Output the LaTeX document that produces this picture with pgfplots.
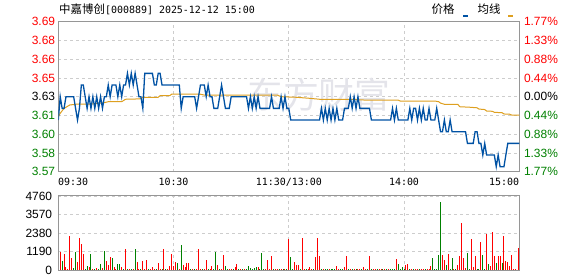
\documentclass[border=0pt]{standalone}
\usepackage{fontspec}
\setmainfont{Liberation Sans}
\newfontfamily\cjk{Noto Sans CJK SC}
\newfontfamily\mono{DejaVu Sans Mono}
\usepackage{pgfplots}
\pgfplotsset{compat=1.18}
\definecolor{pricec}{RGB}{0,82,164}
\definecolor{avgc}{RGB}{222,160,32}
\definecolor{dred}{RGB}{255,0,0}
\definecolor{dgreen}{RGB}{0,128,0}
\definecolor{framec}{RGB}{150,150,150}
\definecolor{gridc}{RGB}{205,205,205}
\definecolor{wmc}{RGB}{228,228,234}
\pgfplotsset{
  panel/.style={scale only axis, width=461bp, xmin=0, xmax=240,
    axis line style={draw=framec, line width=1bp},
    major tick length=0pt, tick style={draw=none},
    xmajorgrids, ymajorgrids,
    major grid style={draw=gridc, line width=0.8bp, dash pattern=on 3bp off 3bp},
    xtick={60,120,180}, xticklabels={},
    clip=true},
}
\begin{document}
\begin{tikzpicture}
\useasboundingbox (0bp,0bp) rectangle (578bp,276bp);
% ---------- price panel ----------
\begin{axis}[panel, at={(58.3bp,104.3bp)}, anchor=south west, height=150bp,
  ymin=3.56574, ymax=3.69426,
  ytick={3.56574,3.58181,3.59787,3.61394,3.63,3.64606,3.66213,3.67819,3.69426},
  yticklabels={\textcolor{dgreen}{3.57},\textcolor{dgreen}{3.58},\textcolor{dgreen}{3.60},\textcolor{dgreen}{3.61},\textcolor{black}{3.63},\textcolor{dred}{3.65},\textcolor{dred}{3.66},\textcolor{dred}{3.68},\textcolor{dred}{3.69}},
  yticklabel style={font=\fontsize{12}{14}\selectfont, inner sep=0pt, xshift=-3bp, anchor=east}]
\node[text=wmc, font=\cjk\fontsize{36}{36}\selectfont] at (axis cs:135.7,3.6315) {东方财富};
\addplot[avgc, line width=1bp, mark=none] coordinates {
(0,3.613)(1,3.6158)(3,3.620)(6,3.6229)(10,3.6237)(17,3.6237)(24,3.6249)(26,3.6257)(33,3.6257)(35,3.6278)(40,3.628)(43,3.6283)(44,3.6295)(52,3.6295)(53,3.6309)(58,3.6309)(59,3.6321)(74,3.6321)(76,3.6314)(114,3.6314)(116,3.6300)(124,3.6295)(131,3.6286)(136,3.6278)(154,3.6278)(156,3.6272)(177,3.6270)(178,3.6263)(196,3.6263)(198,3.6257)(199,3.6245)(201,3.6235)(208,3.6234)(209,3.6214)(214,3.621)(218,3.6205)(219,3.6194)(222,3.619)(223,3.6177)(226,3.6175)(227,3.6166)(231,3.6163)(232,3.6152)(235,3.615)(236,3.6143)(240,3.6143)};
\addplot[pricec, line width=1.3bp, mark=none] coordinates {
(0,3.61)(1,3.63)(2,3.62)(3,3.62)(4,3.63)(8,3.63)(9,3.62)(10,3.61)(11,3.62)(12,3.64)(13,3.64)(14,3.63)(15,3.62)(16,3.63)(17,3.62)(18,3.63)(19,3.62)(20,3.63)(21,3.62)(22,3.63)(23,3.62)(24,3.63)(25,3.63)(26,3.64)(27,3.63)(28,3.64)(30,3.64)(31,3.63)(32,3.64)(33,3.63)(34,3.64)(35,3.64)(36,3.65)(37,3.64)(38,3.65)(39,3.64)(40,3.65)(41,3.64)(42,3.63)(43,3.63)(44,3.62)(45,3.65)(49,3.65)(50,3.64)(51,3.64)(52,3.65)(53,3.65)(54,3.64)(63,3.64)(64,3.62)(65,3.63)(71,3.63)(72,3.62)(73,3.63)(74,3.64)(76,3.64)(77,3.63)(78,3.64)(79,3.63)(80,3.63)(81,3.62)(83,3.62)(84,3.63)(85,3.64)(86,3.63)(87,3.62)(89,3.62)(90,3.63)(98,3.63)(99,3.62)(100,3.63)(101,3.62)(102,3.63)(103,3.62)(104,3.63)(105,3.62)(110,3.62)(111,3.63)(112,3.62)(115,3.62)(116,3.63)(117,3.62)(118,3.63)(119,3.62)(120,3.62)(121,3.61)(136,3.61)(137,3.62)(138,3.61)(139,3.62)(140,3.61)(141,3.62)(142,3.61)(143,3.62)(144,3.61)(145,3.62)(146,3.61)(148,3.61)(149,3.62)(151,3.62)(152,3.63)(153,3.62)(154,3.63)(155,3.62)(156,3.63)(157,3.62)(162,3.62)(163,3.61)(173,3.61)(174,3.62)(175,3.61)(176,3.62)(177,3.61)(182,3.61)(183,3.62)(184,3.61)(185,3.62)(186,3.62)(187,3.61)(188,3.62)(189,3.61)(190,3.62)(191,3.61)(192,3.61)(193,3.62)(194,3.61)(196,3.61)(197,3.62)(198,3.61)(199,3.60)(200,3.60)(201,3.61)(202,3.60)(203,3.60)(204,3.61)(205,3.60)(212,3.60)(213,3.59)(216,3.59)(217,3.60)(218,3.60)(219,3.59)(220,3.59)(221,3.58)(222,3.59)(223,3.58)(227,3.58)(228,3.57)(229,3.58)(230,3.57)(232,3.57)(233,3.58)(234,3.59)(240,3.59)};
\end{axis}
% ---------- right percentage labels ----------
\begin{axis}[scale only axis, width=461bp, height=150bp, at={(58.3bp,104.3bp)}, anchor=south west,
  xmin=0, xmax=240, ymin=3.56574, ymax=3.69426,
  axis line style={draw=none}, xtick=\empty, major tick length=0pt, tick style={draw=none},
  ytick={3.56574,3.58181,3.59787,3.61394,3.63,3.64606,3.66213,3.67819,3.69426},
  yticklabels={\textcolor{dgreen}{1.77\%},\textcolor{dgreen}{1.33\%},\textcolor{dgreen}{0.88\%},\textcolor{dgreen}{0.44\%},\textcolor{black}{0.00\%},\textcolor{dred}{0.44\%},\textcolor{dred}{0.88\%},\textcolor{dred}{1.33\%},\textcolor{dred}{1.77\%}},
  yticklabel pos=right,
  yticklabel style={font=\fontsize{12}{14}\selectfont, inner sep=0pt, xshift=4.5bp, anchor=west}]
\addplot[draw=none, mark=none] coordinates {(0,3.63)(240,3.63)};
\end{axis}
% ---------- volume panel ----------
\begin{axis}[panel, at={(58.3bp,6bp)}, anchor=south west, height=74bp,
  ymin=0, ymax=4760, ytick={0,1190,2380,3570,4760},
  yticklabels={0,1190,2380,3570,4760}, scaled y ticks=false,
  yticklabel style={font=\fontsize{12}{14}\selectfont, inner sep=0pt, xshift=-6bp, anchor=east}]
\addplot[ycomb, draw=dred, line width=1bp, mark=none] coordinates {
(1,1180)(3,1030)(4,170)(5,55)(6,2190)(7,770)(10,515)(11,2060)(12,1670)(13,1030)(16,215)(18,55)(20,100)(23,100)(25,580)(26,320)(27,815)(29,170)(30,55)(33,170)(35,1350)(37,55)(39,55)(41,515)(42,55)(44,580)(45,80)(46,640)(48,80)(49,170)(50,55)(52,470)(53,55)(55,1350)(57,55)(58,257)(59,1030)(60,257)(61,515)(63,55)(65,320)(66,200)(67,470)(68,470)(70,55)(72,55)(73,1350)(74,55)(76,55)(77,640)(79,55)(80,257)(83,320)(85,55)(86,965)(89,55)(90,55)(92,170)(93,386)(95,55)(97,55)(104,170)(108,55)(109,640)(110,55)(111,900)(113,55)(114,80)(116,80)(118,55)(120,1990)
(123,515)(124,322)(125,322)(127,2058)(128,55)(130,80)(131,171)(132,55)(134,815)(135,2058)(136,879)(138,55)(141,55)(145,257)(146,55)(149,171)(150,879)(152,55)(154,55)(156,55)(157,55)(159,171)(160,55)(162,879)(164,55)(165,55)(167,55)(168,55)(170,55)(172,55)(176,708)(181,300)(182,386)(184,55)(186,55)(187,55)(189,55)(190,55)(192,55)(193,55)(194,257)(200,943)(201,643)(203,1029)(206,55)(208,322)(209,879)(210,3023)(211,750)(212,130)(215,1972)(216,171)(217,879)(220,1801)(223,2315)(225,257)(226,2444)(227,879)(229,879)(230,879)(232,2187)(233,579)(234,515)(235,257)(236,965)(237,55)(238,55)(239.6,1415)};
\addplot[ycomb, draw=dgreen, line width=1bp, mark=none] coordinates {
(2,580)(8,100)(9,1160)(14,55)(15,257)(17,1030)(19,55)(21,55)(22,386)(24,1220)(28,750)(31,386)(32,386)(34,55)(36,55)(38,55)(40,1350)(43,55)(47,55)(51,55)(54,55)(56,55)(62,470)(64,1610)(69,55)(71,55)(75,55)(78,55)(81,55)(82,1160)(84,55)(87,257)(88,55)(91,55)(94,55)(96,55)(98,55)(99,257)(100,100)(101,55)(102,100)(103,170)(105,55)(106,1093)(107,55)(112,55)(115,55)(117,55)(119,55)(121,815)(122,55)(126,55)(129,55)(133,55)(137,55)(139,55)(140,55)(142,55)(143,55)(144,55)(147,55)(148,55)(151,55)(153,55)(155,55)(158,55)(161,55)(163,55)(166,55)(169,55)(171,55)(173,55)(174,55)(175,55)(177,386)(178,55)(179,171)(180,55)(183,55)(185,55)(188,55)(191,55)(195,750)(196,55)(197,55)(198,943)(199,4374)(202,300)(204,55)(205,750)(207,55)(213,1093)(214,55)(218,55)(219,55)(221,965)(222,55)(224,386)(228,450)(231,450)};
\end{axis}
% ---------- title, legend, time labels ----------
\node[anchor=base west, inner sep=0pt] at (59bp,262.5bp) {{\cjk\fontsize{11.5}{12}\selectfont 中嘉博创}{\mono\fontsize{10}{12}\selectfont [000889] 2025-12-12 15:00}};
\node[anchor=base west, inner sep=0pt, font=\cjk\fontsize{11.5}{12}\selectfont] at (431.5bp,262.5bp) {价格};
\fill[pricec] (463bp,258.5bp) rectangle (468bp,261bp);
\node[anchor=base west, inner sep=0pt, font=\cjk\fontsize{11.5}{12}\selectfont] at (477.5bp,262.5bp) {均线};
\fill[avgc] (507.5bp,258.5bp) rectangle (512.5bp,261bp);
\begin{scope}[every node/.style={inner sep=0pt, font=\mono\fontsize{10}{12}\selectfont}]
\node[anchor=base west] at (58bp,90.5bp) {09:30};
\node[anchor=base] at (173.5bp,90.5bp) {10:30};
\node[anchor=base] at (288.8bp,90.5bp) {11:30/13:00};
\node[anchor=base] at (404bp,90.5bp) {14:00};
\node[anchor=base east] at (519.3bp,90.5bp) {15:00};
\end{scope}
\end{tikzpicture}
\end{document}
